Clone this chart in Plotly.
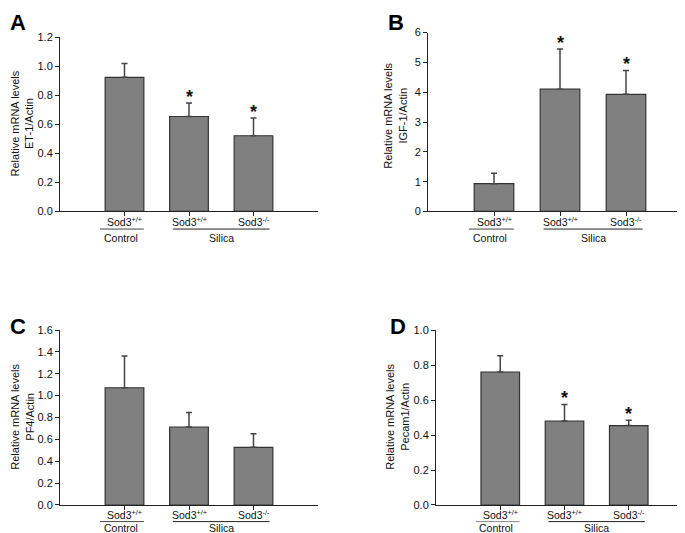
import plotly.graph_objects as go

# ---------------- data ----------------
categories = ["Sod3<sup>+/+</sup>", "Sod3<sup>+/+</sup>", "Sod3<sup>-/-</sup>"]
group_labels = ["Control", "Silica"]

panel_letters = ["A", "B", "C", "D"]
gene_labels = ["ET-1/Actin", "IGF-1/Actin", "PF4/Actin", "Pecam1/Actin"]

et1_mean = [0.925, 0.655, 0.522]
et1_err = [0.095, 0.093, 0.123]
et1_star = [False, True, True]

igf1_mean = [0.93, 4.10, 3.93]
igf1_err = [0.35, 1.35, 0.80]
igf1_star = [False, True, True]

pf4_mean = [1.072, 0.713, 0.527]
pf4_err = [0.290, 0.133, 0.125]
pf4_star = [False, False, False]

pecam1_mean = [0.760, 0.480, 0.454]
pecam1_err = [0.093, 0.095, 0.031]
pecam1_star = [False, True, True]

y_max = [1.2, 6, 1.6, 1.0]
y_dtick = [0.2, 1, 0.2, 0.2]
y_fmt = [".1f", "d", ".1f", ".1f"]

means = [et1_mean, igf1_mean, pf4_mean, pecam1_mean]
errs = [et1_err, igf1_err, pf4_err, pecam1_err]
stars = [et1_star, igf1_star, pf4_star, pecam1_star]

# ---------------- layout geometry (pixels) ----------------
W, H = 685, 533
px_x = [(52, 310), (420, 684), (52, 310), (428, 685)]
px_y = [(24, 202), (19, 202), (323.3, 502.3), (323.3, 502.3)]
title_pos = [(14, 112), (387, 104), (14, 412), (389, 412)]
letter_pos = [(0, 9), (378, 9), (0, 320), (380, 320)]
cat_off = [10, 10, 10, 10]
line_off = [18, 18, 17, 17]
lab_off = [27, 27, 24, 24]
control_line_col = ["#444", "#444", "#444", "#888"]

FONT = "Liberation Sans, Arial, sans-serif"

fig = go.Figure()
shapes = []
annotations = []

for i in range(4):
    n = "" if i == 0 else str(i + 1)
    xa, ya = "x" + n, "y" + n
    xs = list(range(len(categories)))
    fig.add_trace(go.Bar(
        x=xs, y=means[i], xaxis=xa, yaxis=ya, width=0.6,
        marker=dict(color="#808080", line=dict(color="#333333", width=1.2)),
        error_y=dict(type="data", array=errs[i], arrayminus=[0] * len(xs),
                     symmetric=False, color="#444444", thickness=1.5, width=3),
        showlegend=False, hoverinfo="skip",
    ))
    x0, x1 = px_x[i]
    yt, yb = px_y[i]
    dom_h = yb - yt
    fig.update_layout(**{
        "xaxis" + n: dict(
            domain=[x0 / W, x1 / W], range=[-1, 3], anchor=ya,
            showline=True, linecolor="#222", linewidth=1, mirror=False,
            ticks="outside", ticklen=4, tickcolor="#222", tickwidth=1,
            tickvals=xs, showticklabels=False, showgrid=False, zeroline=False,
        ),
        "yaxis" + n: dict(
            domain=[(H - yb) / H, (H - yt) / H], range=[0, y_max[i]], anchor=xa,
            dtick=y_dtick[i], tick0=0, tickformat=y_fmt[i],
            showline=True, linecolor="#222", linewidth=1,
            ticks="outside", ticklen=4, tickcolor="#222", tickwidth=1,
            showgrid=False, zeroline=False,
            tickfont=dict(family=FONT, size=11, color="#111"),
        ),
    })
    # category labels
    for j, c in enumerate(categories):
        annotations.append(dict(text=c, xref=xa, yref=ya + " domain", x=j,
                                y=-cat_off[i] / dom_h, xanchor="center", yanchor="middle",
                                showarrow=False, font=dict(family=FONT, size=10.5, color="#111")))
    # group lines
    for (g0, g1), col in zip([(-0.38, 0.3), (0.75, 2.25)], [control_line_col[i], "#222"]):
        shapes.append(dict(type="line", xref=xa, yref=ya + " domain",
                           x0=g0, x1=g1, y0=-line_off[i] / dom_h, y1=-line_off[i] / dom_h,
                           line=dict(color=col, width=1)))
    for gx, gl in zip([-0.06, 1.5], group_labels):
        annotations.append(dict(text=gl, xref=xa, yref=ya + " domain", x=gx,
                                y=-lab_off[i] / dom_h, xanchor="center", yanchor="middle",
                                showarrow=False, font=dict(family=FONT, size=10.5, color="#111")))
    # stars
    for j, s in enumerate(stars[i]):
        if s:
            annotations.append(dict(text="<b>*</b>", xref=xa, yref=ya, x=j,
                                    y=means[i][j] + errs[i][j], xanchor="center",
                                    yanchor="middle", yshift=6, showarrow=False,
                                    font=dict(family=FONT, size=18, color="#111")))
    # y titles
    tx, ty = title_pos[i]
    annotations.append(dict(text="Relative mRNA levels<br>" + gene_labels[i],
                            xref="paper", yref="paper", x=tx / W, y=(H - ty) / H,
                            xanchor="center", yanchor="middle", textangle=-90,
                            showarrow=False, font=dict(family=FONT, size=11, color="#111")))
    # panel letters
    lx, ly = letter_pos[i]
    annotations.append(dict(text="<b>" + panel_letters[i] + "</b>", xref="paper", yref="paper",
                            x=lx / W, y=(H - ly) / H, xanchor="left", yanchor="middle",
                            showarrow=False, font=dict(family=FONT, size=22, color="#000")))

fig.update_layout(
    width=W, height=H, margin=dict(l=0, r=0, t=0, b=0),
    paper_bgcolor="white", plot_bgcolor="white",
    shapes=shapes, annotations=annotations,
)

fig.write_html("out.html")
